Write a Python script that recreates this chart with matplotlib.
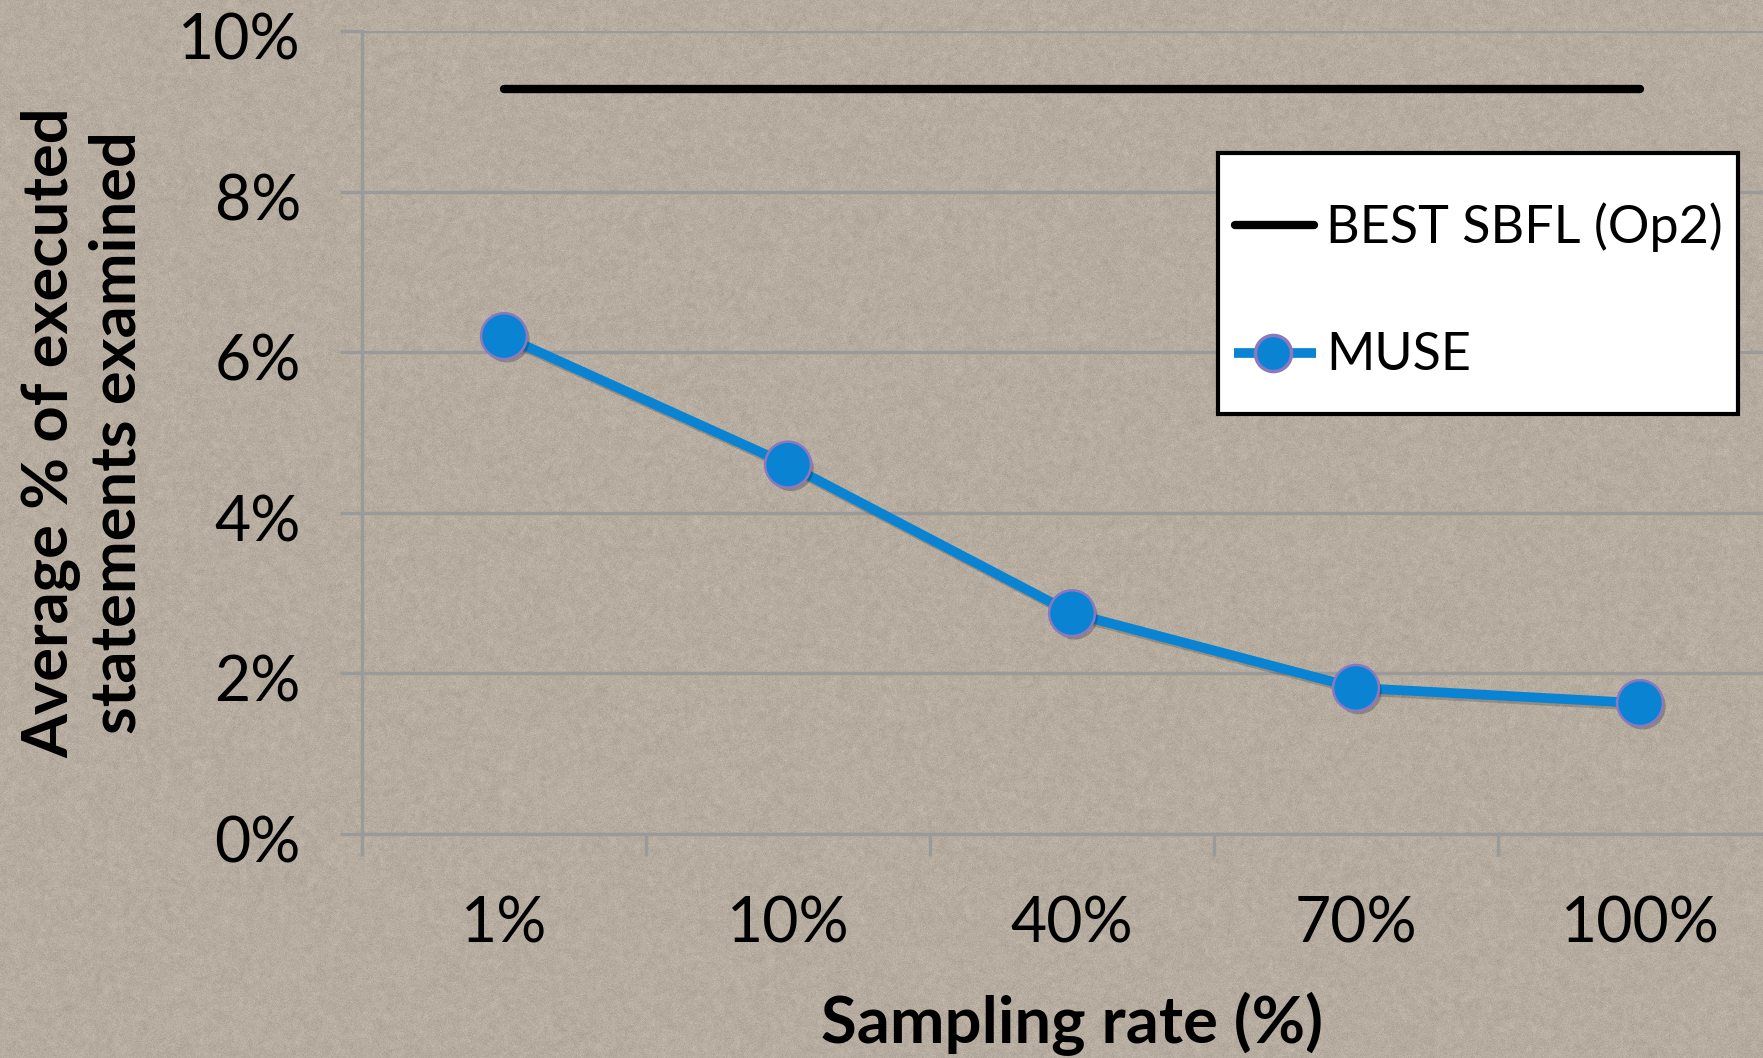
import numpy as np
import matplotlib
matplotlib.use("Agg")
import matplotlib.pyplot as plt
import matplotlib.patheffects as pe
from matplotlib.ticker import FuncFormatter
from matplotlib.lines import Line2D
from matplotlib.patches import Rectangle
from matplotlib.transforms import ScaledTranslation

plt.rcParams['font.family'] = ['Lato', 'DejaVu Sans']

# Data
sampling_rates = ["1%", "10%", "40%", "70%", "100%"]
muse_values = [6.2, 4.6, 2.75, 1.82, 1.63]
best_sbfl_values = [9.28, 9.28, 9.28, 9.28, 9.28]
y_ticks = [0, 2, 4, 6, 8, 10]
series_names = ["BEST SBFL (Op2)", "MUSE"]

W, H, DPI = 1763, 1058, 100
fig = plt.figure(figsize=(W / DPI, H / DPI), dpi=DPI)

# Paper-like textured backdrop
bg = np.array([182, 172, 159], dtype=float) / 255.0
rng = np.random.default_rng(7)
fine = rng.normal(0, 0.018, size=(H, W))
coarse = rng.normal(0, 0.014, size=(H // 4 + 1, W // 4 + 1))
coarse = np.kron(coarse, np.ones((4, 4)))[:H, :W]
k = np.ones(5) / 5
coarse = np.apply_along_axis(lambda r: np.convolve(r, k, mode='same'), 1, coarse)
coarse = np.apply_along_axis(lambda c: np.convolve(c, k, mode='same'), 0, coarse)
tex = np.clip(bg[None, None, :] + (fine + coarse)[:, :, None], 0, 1)
fig.figimage(tex, xo=0, yo=0, zorder=-10)


def px(xp, yp):
    """Pixel position (from top-left) to figure fraction."""
    return xp / W, 1 - yp / H


# Axes placement in pixel terms
left, right, top, bottom = 362, 1782, 31, 834
ax = fig.add_axes([left / W, 1 - bottom / H, (right - left) / W, (bottom - top) / H])
ax.patch.set_alpha(0)

x = np.arange(len(sampling_rates))
grid_c = "#9a9a9a"
blue = "#0a84d2"
edge = "#8b78c0"

ax.set_xlim(-0.5, len(sampling_rates) - 0.5)
ax.set_ylim(0, 10)
ax.set_yticks(y_ticks)
ax.yaxis.set_major_formatter(FuncFormatter(lambda v, p: f"{v:.0f}%"))
ax.set_xticks(x)
ax.set_xticklabels(sampling_rates)
ax.set_xticks(np.arange(len(sampling_rates) + 1) - 0.5, minor=True)

ax.grid(axis='y', color=grid_c, linewidth=2.4, zorder=1)
for s in ['top', 'right']:
    ax.spines[s].set_visible(False)
for s in ['left', 'bottom']:
    ax.spines[s].set_color(grid_c)
    ax.spines[s].set_linewidth(2.4)

ax.tick_params(axis='y', which='major', length=16, width=2.4, color=grid_c,
               labelsize=45, pad=28, labelcolor='black')
ax.tick_params(axis='x', which='major', length=0, labelsize=45, pad=44,
               labelcolor='black')
ax.tick_params(axis='x', which='minor', length=16, width=2.4, color=grid_c)

# nudge y tick labels slightly below their gridlines
nudge = ScaledTranslation(0, -5 / DPI, fig.dpi_scale_trans)
for lbl in ax.get_yticklabels():
    lbl.set_transform(lbl.get_transform() + nudge)

shadow = [pe.SimpleLineShadow(offset=(1.5, -2), shadow_color='black', alpha=0.18),
          pe.Normal()]
ax.plot(x, best_sbfl_values, color='black', linewidth=6.0,
        solid_capstyle='round', zorder=3)
ax.plot(x, muse_values, color=blue, linewidth=7.0, zorder=4,
        path_effects=shadow)
ax.plot(x, muse_values, linestyle='none', marker='o',
        markersize=33, markerfacecolor=blue, markeredgecolor=edge,
        markeredgewidth=1.8, zorder=5,
        path_effects=[pe.SimplePatchShadow(offset=(2, -2.5), shadow_rgbFace='black',
                                           alpha=0.22), pe.Normal()])

ax.set_xlabel("Sampling rate (%)", fontsize=47, fontweight='bold', labelpad=28)
fig.text(*px(50, 433), "Average % of executed", rotation=90,
         ha='center', va='center', fontsize=45.5, fontweight='bold')
fig.text(*px(118, 433), "statements examined", rotation=90,
         ha='center', va='center', fontsize=45.5, fontweight='bold')

# Legend box drawn in figure pixel space
bx0, by0, bx1, by1 = 1218, 153, 1738, 414
fig.patches.append(Rectangle(px(bx0, by1), (bx1 - bx0) / W, (by1 - by0) / H,
                             transform=fig.transFigure, facecolor='white',
                             edgecolor='black', linewidth=3, zorder=5))
row_y = [225, 353]
fig.lines.append(Line2D([px(1235, 0)[0], px(1314, 0)[0]], [px(0, row_y[0])[1]] * 2,
                        transform=fig.transFigure, color='black', linewidth=6.0,
                        solid_capstyle='round', zorder=6))
fig.lines.append(Line2D([px(1234, 0)[0], px(1316, 0)[0]], [px(0, row_y[1])[1]] * 2,
                        transform=fig.transFigure, color=blue, linewidth=7.0,
                        solid_capstyle='butt', zorder=6))
fig.lines.append(Line2D([px(1273, 0)[0]], [px(0, row_y[1])[1]],
                        transform=fig.transFigure, marker='o', markersize=26,
                        markerfacecolor=blue, markeredgecolor=edge,
                        markeredgewidth=2.5, zorder=7))
for name, yy in zip(series_names, row_y):
    fig.text(*px(1326, yy + 2), name, ha='left', va='center', fontsize=37.5,
             zorder=8)

fig.savefig("out.png", dpi=DPI)
